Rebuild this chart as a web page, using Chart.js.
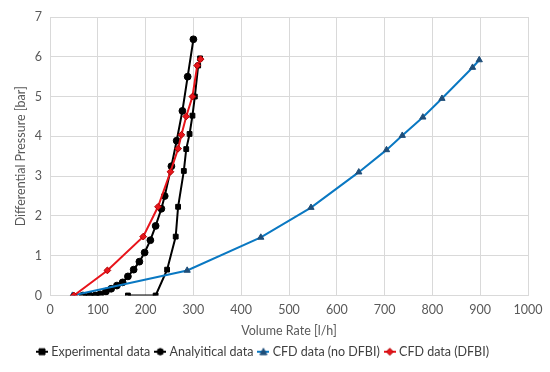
<!DOCTYPE html>
<html>
<head>
<meta charset="utf-8">
<script src="https://cdn.jsdelivr.net/npm/chart.js@4/dist/chart.umd.min.js"></script>
<style>
  html, body { margin: 0; padding: 0; background: #fff; }
  #wrap { width: 550px; height: 372px; }
</style>
</head>
<body>
<div id="wrap"><canvas id="chart" width="550" height="372"></canvas></div>
<script>
// --- data ---
const expX = [163, 221, 245, 263, 268, 280, 285, 292, 298, 303, 310, 314];
const expY = [0, 0, 0.65, 1.48, 2.23, 3.13, 3.68, 4.06, 4.52, 5.0, 5.78, 5.96];

const anaX = [69, 83, 95, 105, 117, 128, 140, 152, 163, 175, 187, 198, 210, 221, 233, 240, 254, 265, 277, 288, 300];
const anaY = [0, 0, 0, 0.03, 0.1, 0.17, 0.25, 0.33, 0.48, 0.65, 0.85, 1.08, 1.39, 1.75, 2.18, 2.5, 3.25, 3.89, 4.64, 5.5, 6.44];

const cfdX = [47, 287, 441, 546, 646, 704, 737, 780, 820, 884, 898];
const cfdY = [0, 0.63, 1.46, 2.21, 3.1, 3.66, 4.02, 4.48, 4.95, 5.73, 5.92];

const dfbiX = [50, 120, 195, 226, 252, 268, 275, 285, 298, 308, 315];
const dfbiY = [0, 0.63, 1.48, 2.23, 3.11, 3.69, 4.04, 4.5, 5.0, 5.78, 5.94];

const seriesNames = ['Experimental data', 'Analyitical data', 'CFD data (no DFBI)', 'CFD data (DFBI)'];
const xTicks = [0, 100, 200, 300, 400, 500, 600, 700, 800, 900, 1000];
const yTicks = [0, 1, 2, 3, 4, 5, 6, 7];

const toPoints = (xs, ys) => xs.map((x, i) => ({ x: x, y: ys[i] }));

// legend icon: short line with marker, like Excel
function legendIcon(lineColor, fill, stroke, style) {
    const c = document.createElement('canvas');
    c.width = 12; c.height = 10;
    const g = c.getContext('2d');
    g.strokeStyle = lineColor;
    g.lineWidth = 2;
    g.beginPath(); g.moveTo(0, 5); g.lineTo(12, 5); g.stroke();
    g.fillStyle = fill;
    g.strokeStyle = stroke;
    g.lineWidth = 1;
    g.beginPath();
    if (style === 'rect') g.rect(3, 2, 6, 6);
    else if (style === 'circle') g.arc(6, 5, 3.2, 0, Math.PI * 2);
    else if (style === 'triangle') { g.moveTo(6, 1.5); g.lineTo(9.5, 8); g.lineTo(2.5, 8); g.closePath(); }
    else { g.moveTo(6, 1.5); g.lineTo(9.5, 5); g.lineTo(6, 8.5); g.lineTo(2.5, 5); g.closePath(); }
    g.fill(); g.stroke();
    return c;
}

const styles = [
    { line: '#000000', fill: '#000000', stroke: '#000000', pt: 'rect', r: 3.4 },
    { line: '#000000', fill: '#000000', stroke: '#000000', pt: 'circle', r: 3.4 },
    { line: '#0a78c2', fill: '#1f4e79', stroke: '#1f4e79', pt: 'triangle', r: 3.6 },
    { line: '#e8141b', fill: '#e8141b', stroke: '#b00000', pt: 'rectRot', r: 3.4 }
];
const seriesData = [toPoints(expX, expY), toPoints(anaX, anaY), toPoints(cfdX, cfdY), toPoints(dfbiX, dfbiY)];
const drawOrder = [3, 2, 1, 0]; // red drawn on top
const icons = styles.map(s => legendIcon(s.line, s.fill, s.stroke, s.pt));

const datasets = seriesNames.map((name, i) => ({
    label: name,
    data: seriesData[i],
    borderColor: styles[i].line,
    borderWidth: 2,
    backgroundColor: styles[i].fill,
    pointBackgroundColor: styles[i].fill,
    pointBorderColor: styles[i].stroke,
    pointBorderWidth: 1,
    pointStyle: styles[i].pt,
    pointRadius: styles[i].r,
    showLine: true,
    tension: 0,
    order: drawOrder[i]
}));

const tickColor = '#595959';
const gridColor = '#d9d9d9';
const font = { family: 'Lato, "Open Sans", sans-serif', size: 12.5 };

new Chart(document.getElementById('chart'), {
    type: 'scatter',
    data: { datasets: datasets },
    options: {
        responsive: false,
        animation: false,
        layout: { padding: { top: 17, right: 22, left: 0, bottom: 4 } },
        plugins: {
            tooltip: { enabled: false },
            legend: {
                position: 'bottom',
                labels: {
                    usePointStyle: true,
                    pointStyleWidth: 6,
                    boxHeight: 10,
                    padding: 7,
                    color: '#404040',
                    font: font,
                    generateLabels: () => seriesNames.map((name, i) => ({
                        text: name,
                        pointStyle: icons[i],
                        fillStyle: styles[i].fill,
                        strokeStyle: styles[i].line,
                        lineWidth: 0,
                        fontColor: '#404040',
                        hidden: false,
                        datasetIndex: i
                    }))
                }
            }
        },
        scales: {
            x: {
                type: 'linear',
                min: 0, max: 1000,
                afterBuildTicks: s => { s.ticks = xTicks.map(v => ({ value: v })); },
                afterFit: s => { s.height = 43; },
                grid: { color: gridColor, drawTicks: false },
                border: { color: gridColor },
                ticks: { color: tickColor, padding: 7, font: font, callback: v => String(v) },
                title: {
                    display: true, text: 'Volume Rate [l/h]', color: tickColor,
                    padding: { top: 2, bottom: 0 },
                    font: font
                }
            },
            y: {
                type: 'linear',
                min: 0, max: 7,
                afterBuildTicks: s => { s.ticks = yTicks.map(v => ({ value: v })); },
                afterFit: s => { s.width = 50; },
                grid: { color: gridColor, drawTicks: false },
                border: { color: gridColor },
                ticks: { color: tickColor, padding: 8, font: font, callback: v => String(v) },
                title: {
                    display: true, text: 'Differential Pressure [bar]', color: tickColor,
                    padding: { top: 13, bottom: 0 },
                    font: font
                }
            }
        }
    }
});
</script>
</body>
</html>
